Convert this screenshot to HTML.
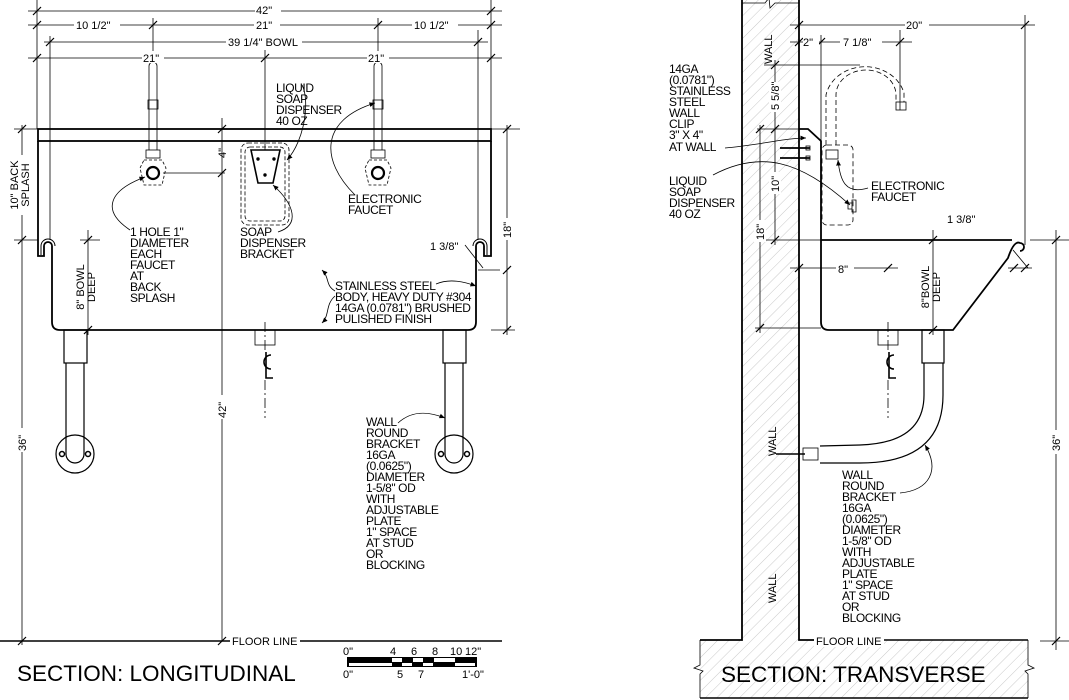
<!DOCTYPE html>
<html><head><meta charset="utf-8"><style>
html,body{margin:0;padding:0;background:#fff}
svg{display:block}
text{font-family:"Liberation Sans",sans-serif;fill:#000}
.t{font-size:12px;letter-spacing:-0.4px}
.d{font-size:11px}
</style></head><body>
<svg width="1069" height="700" viewBox="0 0 1069 700" xmlns="http://www.w3.org/2000/svg">
<defs>
<pattern id="h" width="8" height="8" patternUnits="userSpaceOnUse" patternTransform="rotate(45)">
<line x1="0" y1="0" x2="0" y2="8" stroke="#bbb" stroke-width="0.8"/></pattern>
<marker id="a" markerWidth="8" markerHeight="8" refX="7" refY="4" orient="auto"><path d="M0,1 L7,4 L0,7 Z" fill="#000"/></marker>
</defs>
<g stroke="#000" fill="none" stroke-width="0.8">
<line x1="28" y1="11" x2="502" y2="11"/>
<line x1="28" y1="25" x2="502" y2="25"/>
<line x1="44" y1="42" x2="488" y2="42"/>
<line x1="28" y1="58" x2="502" y2="58"/>
<line x1="37" y1="0" x2="37" y2="129"/>
<line x1="491" y1="0" x2="491" y2="129"/>
<line x1="153" y1="18" x2="153" y2="60"/>
<line x1="378" y1="18" x2="378" y2="60"/>
<line x1="265" y1="50" x2="265" y2="150"/>
<line x1="50" y1="36" x2="50" y2="240"/>
<line x1="478" y1="30" x2="478" y2="240"/>
<g stroke-width="1.2">
<line x1="33" y1="15" x2="41" y2="7"/><line x1="487" y1="15" x2="495" y2="7"/>
<line x1="33" y1="29" x2="41" y2="21"/><line x1="149" y1="29" x2="157" y2="21"/><line x1="374" y1="29" x2="382" y2="21"/><line x1="487" y1="29" x2="495" y2="21"/>
<line x1="46" y1="46" x2="54" y2="38"/><line x1="474" y1="46" x2="482" y2="38"/>
<line x1="33" y1="62" x2="41" y2="54"/><line x1="261" y1="62" x2="269" y2="54"/><line x1="487" y1="62" x2="495" y2="54"/>
</g>
<line x1="22" y1="125" x2="22" y2="645"/>
<line x1="14" y1="129" x2="38" y2="129"/>
<line x1="14" y1="240" x2="38" y2="240"/>
<line x1="0" y1="641" x2="502" y2="641" stroke-width="1.5"/>
<line x1="88" y1="230" x2="88" y2="335"/>
<line x1="80" y1="240" x2="100" y2="240"/>
<line x1="222" y1="118" x2="222" y2="641"/>
<line x1="163" y1="173" x2="225" y2="173"/>
<line x1="507" y1="125" x2="507" y2="335"/>
<line x1="491" y1="129" x2="520" y2="129"/>
<line x1="478" y1="270" x2="500" y2="270"/>
<line x1="491" y1="330" x2="515" y2="330"/>
<g stroke-width="1.2">
<line x1="18" y1="133" x2="26" y2="125"/><line x1="18" y1="244" x2="26" y2="236"/><line x1="18" y1="645" x2="26" y2="637"/>
<line x1="84" y1="244" x2="92" y2="236"/><line x1="84" y1="334" x2="92" y2="326"/>
<line x1="218" y1="133" x2="226" y2="125"/><line x1="218" y1="177" x2="226" y2="169"/><line x1="218" y1="645" x2="226" y2="637"/>
<line x1="503" y1="133" x2="511" y2="125"/><line x1="503" y1="274" x2="511" y2="266"/><line x1="503" y1="334" x2="511" y2="326"/>
</g>
<rect x="38" y="129" width="453" height="12" stroke-width="1.8"/>
<path d="M38,141 V256 H44 V246 A4,4 0 0 1 52,246 V322 Q52,330 60,330 H468 Q476,330 476,322 V246 A4,4 0 0 1 484,246 V256 H491 V141" stroke-width="1.8"/>
<path d="M41,255 V246 A7,7 0 0 1 55,246" stroke-width="1"/>
<path d="M473,246 A7,7 0 0 1 487,246 V255" stroke-width="1"/>
<g stroke-width="0.8">
<path d="M149,150 V66 A4,4 0 0 1 157,66 V150"/>
<rect x="148" y="100" width="10" height="9"/>
<rect x="146" y="150" width="14" height="8"/>
<path d="M144,160 L162,160 L166,168 L162,185 H144 L140,168 Z" stroke-dasharray="3,2"/>
<path d="M374,150 V66 A4,4 0 0 1 382,66 V150"/>
<rect x="373" y="100" width="10" height="9"/>
<rect x="371" y="150" width="14" height="8"/>
<path d="M369,160 L387,160 L391,168 L387,185 H369 L365,168 Z" stroke-dasharray="3,2"/>
</g>
<circle cx="153" cy="173" r="6" stroke-width="2.2"/>
<circle cx="378" cy="173" r="6" stroke-width="2.2"/>
<rect x="241" y="143" width="48" height="82" rx="7" stroke-dasharray="4,2"/>
<rect x="245" y="147" width="40" height="74" rx="5" stroke-dasharray="4,2"/>
<path d="M251,150 H280 L273,183 H258 Z" stroke-width="1.6" fill="#fff"/>
<circle cx="258" cy="159" r="1.3" fill="#000"/><circle cx="274" cy="159" r="1.3" fill="#000"/><circle cx="265" cy="175" r="1.3" fill="#000"/>
<rect x="64" y="330" width="23" height="33" stroke-width="1.2"/>
<path d="M66,363 V454 A9,9 0 0 0 84,454 V363" stroke-width="1.2"/>
<circle cx="75" cy="454" r="19" stroke-width="1.2"/>
<circle cx="62" cy="454" r="2.5" stroke-width="1.5"/><circle cx="88" cy="454" r="2.5" stroke-width="1.5"/>
<rect x="443" y="330" width="23" height="33" stroke-width="1.2"/>
<path d="M445,363 V454 A9,9 0 0 0 463,454 V363" stroke-width="1.2"/>
<circle cx="454" cy="454" r="19" stroke-width="1.2"/>
<circle cx="441" cy="454" r="2.5" stroke-width="1.5"/><circle cx="467" cy="454" r="2.5" stroke-width="1.5"/>
<rect x="255" y="330" width="20" height="15"/>
<line x1="265" y1="322" x2="265" y2="350" stroke-dasharray="10,3,2,3"/>
<line x1="265" y1="380" x2="265" y2="418" stroke-dasharray="10,3,2,3"/>
<path d="M130,230 C100,210 110,190 145,177" marker-end="url(#a)"/>
<path d="M302,85 C310,100 305,140 287,160" marker-end="url(#a)"/>
<path d="M355,195 C320,160 320,120 375,103" marker-end="url(#a)"/>
<path d="M278,232 C300,225 295,205 273,185" marker-end="url(#a)"/>
<path d="M335,291 C325,285 330,278 322,270" marker-end="url(#a)"/>
<path d="M335,296 C325,305 330,315 322,323" marker-end="url(#a)"/>
<path d="M436,284 C450,278 465,282 476,286" marker-end="url(#a)"/>
<path d="M465,245 L483,268"/>
<path d="M398,423 C410,412 425,410 445,418" marker-end="url(#a)"/>
<path d="M271,355 A7,7 0 0 1 271,369" stroke-width="1.6" transform="translate(542,0) scale(-1,1)"/>
<path d="M266,352 V378 H273" stroke-width="1.6"/>
<path d="M894,355 A7,7 0 0 1 894,369" stroke-width="1.6" transform="translate(1788,0) scale(-1,1)"/>
<path d="M889,352 V378 H896" stroke-width="1.6"/>
</g>

<g class="d">
<rect x="255" y="3" width="26" height="12" fill="#fff"/><text x="256" y="14">42"</text>
<rect x="74" y="18" width="46" height="12" fill="#fff"/><text x="76" y="29">10 1/2"</text>
<rect x="254" y="18" width="26" height="12" fill="#fff"/><text x="256" y="29">21"</text>
<rect x="412" y="18" width="46" height="12" fill="#fff"/><text x="414" y="29">10 1/2"</text>
<rect x="226" y="35" width="76" height="12" fill="#fff"/><text x="228" y="46">39 1/4" BOWL</text>
<rect x="142" y="51" width="22" height="12" fill="#fff"/><text x="143" y="62">21"</text>
<rect x="367" y="51" width="22" height="12" fill="#fff"/><text x="368" y="62">21"</text>
<text transform="translate(226,158) rotate(-90)">4"</text>
<rect x="6" y="155" width="26" height="60" fill="#fff"/>
<text transform="translate(18,185) rotate(-90)" text-anchor="middle">10" BACK</text>
<text transform="translate(29,185) rotate(-90)" text-anchor="middle">SPLASH</text>
<text transform="translate(84,287) rotate(-90)" text-anchor="middle">8" BOWL</text>
<text transform="translate(95,287) rotate(-90)" text-anchor="middle">DEEP</text>
<rect x="16" y="428" width="12" height="24" fill="#fff"/><text transform="translate(26,451) rotate(-90)">36"</text>
<rect x="216" y="395" width="12" height="24" fill="#fff"/><text transform="translate(226,418) rotate(-90)">42"</text>
<rect x="500" y="218" width="12" height="22" fill="#fff"/><text transform="translate(511,238) rotate(-90)">18"</text>
<text x="430" y="250">1 3/8"</text>
<rect x="230" y="634" width="70" height="13" fill="#fff"/><text x="232" y="645">FLOOR LINE</text>
</g>
<g class="t">
<text x="276" y="92">LIQUID</text><text x="276" y="103">SOAP</text><text x="276" y="114">DISPENSER</text><text x="276" y="125">40 OZ</text>
<text x="348" y="203">ELECTRONIC</text><text x="348" y="214">FAUCET</text>
<text x="130" y="236">1 HOLE 1"</text><text x="130" y="247">DIAMETER</text><text x="130" y="258">EACH</text><text x="130" y="269">FAUCET</text><text x="130" y="280">AT</text><text x="130" y="291">BACK</text><text x="130" y="302">SPLASH</text>
<text x="240" y="236">SOAP</text><text x="240" y="247">DISPENSER</text><text x="240" y="258">BRACKET</text>
<text x="335" y="290">STAINLESS STEEL</text><text x="335" y="301">BODY, HEAVY DUTY #304</text><text x="335" y="312">14GA (0.0781") BRUSHED</text><text x="335" y="323">PULISHED FINISH</text>
<text x="366" y="426">WALL</text><text x="366" y="437">ROUND</text><text x="366" y="448">BRACKET</text><text x="366" y="459">16GA</text><text x="366" y="470">(0.0625")</text><text x="366" y="481">DIAMETER</text><text x="366" y="492">1-5/8" OD</text><text x="366" y="503">WITH</text><text x="366" y="514">ADJUSTABLE</text><text x="366" y="525">PLATE</text><text x="366" y="536">1" SPACE</text><text x="366" y="547">AT STUD</text><text x="366" y="558">OR</text><text x="366" y="569">BLOCKING</text>
</g>
<text x="17" y="681" style="font-size:22.5px">SECTION: LONGITUDINAL</text>
<g>
<rect x="347" y="657" width="130" height="10" fill="#000"/>
<rect x="349" y="663" width="43" height="3" fill="#fff"/>
<rect x="392" y="658" width="10" height="4" fill="#fff"/>
<rect x="402" y="663" width="10" height="3" fill="#fff"/>
<rect x="413" y="658" width="10" height="4" fill="#fff"/>
<rect x="423" y="663" width="10" height="3" fill="#fff"/>
<rect x="434" y="658" width="21" height="4" fill="#fff"/>
<rect x="455" y="663" width="20" height="3" fill="#fff"/>
</g>
<g class="d">
<text x="343" y="655">0"</text><text x="390" y="655">4</text><text x="411" y="655">6</text><text x="432" y="655">8</text><text x="450" y="655">10</text><text x="465" y="655">12"</text>
<text x="343" y="678">0"</text><text x="397" y="678">5</text><text x="418" y="678">7</text><text x="462" y="678">1'-0"</text>
</g>

<path d="M742,0 V640 H700 V698 H1028 V640 H799 V0 Z" fill="url(#h)" stroke="none"/>
<g stroke="#000" fill="none">
<path d="M742,0 V640 H700" stroke-width="1.8"/>
<path d="M799,0 V640 H815" stroke-width="1.8"/>
<path d="M815,640 H1028" stroke-width="1.4"/>
<path d="M700,698 H1028" stroke-width="1.4"/>
<path d="M700,640 V665 L694,668 L703,671 L700,674 V698" stroke-width="0.8"/>
<path d="M1028,640 V665 L1034,668 L1025,671 L1028,674 V698" stroke-width="0.8"/>
<path d="M742,3 H765 L769,-2 L770,8 L775,3 H799" stroke-width="0.8" fill="#fff"/>
<g stroke-width="0.8">
<line x1="790" y1="25" x2="1035" y2="25"/>
<line x1="790" y1="42" x2="912" y2="42"/>
<line x1="799" y1="18" x2="799" y2="50"/>
<line x1="821" y1="35" x2="821" y2="140"/>
<line x1="900" y1="30" x2="900" y2="110"/>
<line x1="1025" y1="15" x2="1025" y2="245"/>
<line x1="1056" y1="230" x2="1056" y2="650"/>
<line x1="1030" y1="240" x2="1069" y2="240"/>
<line x1="1040" y1="641" x2="1069" y2="641"/>
<line x1="764" y1="65" x2="860" y2="65"/>
<line x1="775" y1="60" x2="775" y2="245"/>
<line x1="757" y1="129" x2="799" y2="129"/>
<line x1="765" y1="240" x2="821" y2="240"/>
<line x1="760" y1="125" x2="760" y2="333"/>
<line x1="755" y1="328" x2="821" y2="328"/>
<line x1="790" y1="268" x2="898" y2="268"/>
<line x1="933" y1="230" x2="933" y2="335"/>
<line x1="1008" y1="268" x2="1032" y2="268"/>
</g>
<g stroke-width="1.2">
<line x1="795" y1="29" x2="803" y2="21"/><line x1="1021" y1="29" x2="1029" y2="21"/>
<line x1="795" y1="46" x2="803" y2="38"/><line x1="817" y1="46" x2="825" y2="38"/><line x1="896" y1="46" x2="904" y2="38"/>
<line x1="1052" y1="244" x2="1060" y2="236"/><line x1="1052" y1="645" x2="1060" y2="637"/>
<line x1="771" y1="69" x2="779" y2="61"/><line x1="771" y1="133" x2="779" y2="125"/><line x1="771" y1="244" x2="779" y2="236"/>
<line x1="756" y1="133" x2="764" y2="125"/><line x1="756" y1="332" x2="764" y2="324"/>
<line x1="795" y1="272" x2="803" y2="264"/><line x1="884" y1="272" x2="892" y2="264"/>
<line x1="929" y1="244" x2="937" y2="236"/><line x1="929" y1="334" x2="937" y2="326"/>
<line x1="1010" y1="272" x2="1018" y2="264"/><line x1="1021" y1="272" x2="1029" y2="264"/>
</g>
<path d="M799,129 H808 L821,141 V322 Q821,330 829,330 H953 L1008,258 Q1014,240 1020,243 A4,4 0 0 1 1020,251" stroke-width="1.8"/>
<line x1="821" y1="240" x2="1012" y2="240" stroke-width="1.8"/>
<line x1="1013" y1="250" x2="1028" y2="268" stroke-width="0.8"/>
<g stroke-dasharray="5,3" stroke-width="0.8">
<path d="M826,145 V95 A40,35 0 0 1 904,93 V102"/>
<path d="M836,145 V95 A30,25 0 0 1 896,95 V102"/>
<rect x="822" y="145" width="31" height="80" rx="5"/>
</g>
<rect x="896" y="102" width="10" height="8" stroke-width="0.8"/>
<rect x="826" y="150" width="12" height="9" stroke-width="0.8"/>
<path d="M852,200 h4 v12 h-4 z M848,203 h4 v6 h-4z" stroke-width="0.8"/>
<line x1="780" y1="148" x2="810" y2="148" stroke-width="1.8"/>
<line x1="780" y1="158" x2="810" y2="158" stroke-width="1.8"/>
<rect x="806" y="146" width="4" height="4" stroke-width="0.8"/><rect x="806" y="156" width="4" height="4" stroke-width="0.8"/>
<rect x="878" y="330" width="20" height="15" stroke-width="0.8"/>
<line x1="888" y1="322" x2="888" y2="350" stroke-dasharray="10,3,2,3" stroke-width="0.8"/>
<line x1="888" y1="380" x2="888" y2="418" stroke-dasharray="10,3,2,3" stroke-width="0.8"/>
<rect x="922" y="330" width="22" height="33" stroke-width="1.2"/>
<path d="M924,363 V395 Q924,443 860,445 L820,446" stroke-width="1.2"/>
<path d="M943,363 V395 Q943,463 860,463 L820,463" stroke-width="1.2"/>
<rect x="803" y="448" width="15" height="12" stroke-width="0.8"/>
<line x1="776" y1="454" x2="805" y2="454" stroke-width="1.6"/>
<g stroke-width="0.8">
<path d="M725,148 C760,145 785,138 806,138" marker-end="url(#a)"/>
<path d="M713,175 C760,150 800,160 850,205" marker-end="url(#a)"/>
<path d="M868,188 C845,195 840,180 838,160" marker-end="url(#a)"/>
<path d="M900,493 C930,490 940,470 925,445" marker-end="url(#a)"/>
</g>
</g>
<g class="d">
<text transform="translate(772,64) rotate(-90)">WALL</text>
<text transform="translate(776,456) rotate(-90)">WALL</text>
<text transform="translate(776,603) rotate(-90)">WALL</text>
<rect x="905" y="18" width="24" height="12" fill="#fff"/><text x="906" y="29">20"</text>
<rect x="803" y="35" width="16" height="12" fill="#fff"/><text x="803" y="46">2"</text>
<rect x="840" y="35" width="42" height="12" fill="#fff"/><text x="843" y="46">7 1/8"</text>
<rect x="769" y="82" width="12" height="30" fill="#fff"/><text transform="translate(779,110) rotate(-90)">5 5/8"</text>
<rect x="769" y="172" width="12" height="22" fill="#fff"/><text transform="translate(779,192) rotate(-90)">10"</text>
<rect x="754" y="220" width="12" height="22" fill="#fff"/><text transform="translate(764,240) rotate(-90)">18"</text>
<rect x="836" y="262" width="18" height="12" fill="#fff"/><text x="838" y="273">8"</text>
<text transform="translate(929,287) rotate(-90)" text-anchor="middle">8"BOWL</text>
<text transform="translate(940,287) rotate(-90)" text-anchor="middle">DEEP</text>
<text x="947" y="223">1 3/8"</text>
<rect x="1050" y="430" width="12" height="24" fill="#fff"/><text transform="translate(1060,451) rotate(-90)">36"</text>
<rect x="814" y="634" width="70" height="13" fill="#fff"/><text x="816" y="645">FLOOR LINE</text>
</g>
<g class="t">
<text x="669" y="73">14GA</text><text x="669" y="84">(0.0781")</text><text x="669" y="95">STAINLESS</text><text x="669" y="106">STEEL</text><text x="669" y="117">WALL</text><text x="669" y="128">CLIP</text><text x="669" y="139">3" X 4"</text><text x="669" y="151">AT WALL</text>
<text x="669" y="185">LIQUID</text><text x="669" y="196">SOAP</text><text x="669" y="207">DISPENSER</text><text x="669" y="218">40 OZ</text>
<text x="871" y="190">ELECTRONIC</text><text x="871" y="201">FAUCET</text>
<text x="842" y="479">WALL</text><text x="842" y="490">ROUND</text><text x="842" y="501">BRACKET</text><text x="842" y="512">16GA</text><text x="842" y="523">(0.0625")</text><text x="842" y="534">DIAMETER</text><text x="842" y="545">1-5/8" OD</text><text x="842" y="556">WITH</text><text x="842" y="567">ADJUSTABLE</text><text x="842" y="578">PLATE</text><text x="842" y="589">1" SPACE</text><text x="842" y="600">AT STUD</text><text x="842" y="611">OR</text><text x="842" y="622">BLOCKING</text>
</g>
<text x="721" y="682" style="font-size:22.5px">SECTION: TRANSVERSE</text>
</svg>
</body></html>
